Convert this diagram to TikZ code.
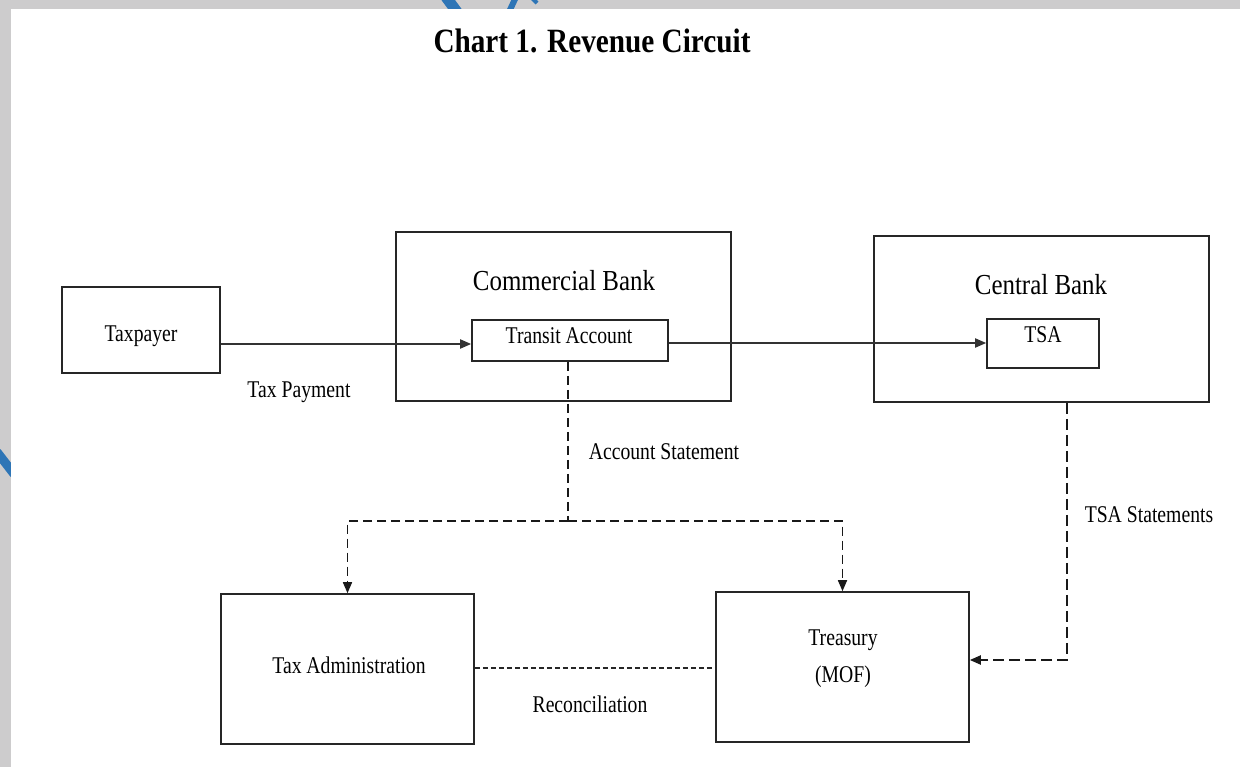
\documentclass[tikz,border=0pt]{standalone}
\usepackage{fontspec}
\setmainfont{Liberation Serif}[FakeStretch=0.82]
\newfontfamily\bigfont{Liberation Serif}[FakeStretch=0.86]
\usetikzlibrary{arrows.meta,calc}
\definecolor{framegray}{HTML}{CDCCCD}
\definecolor{markblue}{HTML}{2E75B6}
\begin{document}
\begin{tikzpicture}[x=1pt,y=-1pt,
  box/.style={draw=black!85,line width=1.6pt,inner sep=0pt},
  lbl/.style={anchor=base,inner sep=0pt,font=\fontsize{24}{28}\selectfont},
  biglbl/.style={anchor=base,inner sep=0pt,font=\bigfont\fontsize{29}{34}\selectfont},
  tip/.style={-{Triangle[length=11pt,width=9pt]}},
  flow/.style={tip,line width=1.8pt,draw=black!80},
  stmt/.style={line width=1.6pt,draw=black!90,dash pattern=on 9pt off 5pt},
  stmtb/.style={line width=2pt,draw=black!90,dash pattern=on 11pt off 5pt},
  recon/.style={line width=1.4pt,draw=black!85,dash pattern=on 5pt off 3pt}]

% page frame
\clip (0,0) rectangle (1240,767);
\fill[framegray] (0,0) rectangle (1240,767);
\draw[markblue,line width=11pt] (446,-3) -- (457,12);
\draw[markblue,line width=6pt] (509,12) -- (516,-3);
\draw[markblue,line width=4pt] (532,-2) -- (537,3);
\draw[markblue,line width=9pt] (-3,452) -- (14,474);
\fill[white] (11,9) rectangle (1240,767);

% title
\node[anchor=base,inner sep=0pt,font=\bigfont\fontsize{34}{40}\selectfont\bfseries] (title) at (592,53) {Chart 1. Revenue Circuit};

% boxes
\node[box,minimum width=158pt,minimum height=86pt] (tp) at (141,330) {};
\node[box,minimum width=335pt,minimum height=169pt] (cb) at (563.5,316.5) {};
\node[box,minimum width=196pt,minimum height=41pt] (ta) at (570,340.5) {};
\node[box,minimum width=335pt,minimum height=166pt] (cen) at (1041.5,319) {};
\node[box,minimum width=112pt,minimum height=49pt] (tsa) at (1043,343.5) {};
\node[box,minimum width=253pt,minimum height=150pt] (tadm) at (347.5,669) {};
\node[box,minimum width=253pt,minimum height=150pt] (tre) at (842.5,667) {};

% box texts
\node[lbl] (tpt) at (141,342) {Taxpayer};
\node[biglbl] (cbt) at (564,291) {Commercial Bank};
\node[lbl] (tat) at (569,344) {Transit Account};
\node[biglbl] (cent) at (1041,295) {Central Bank};
\node[lbl] (tsat) at (1043,343) {TSA};
\node[lbl] (tadmt) at (349,673) {Tax Administration};
\node[lbl] (tret) at (843,645) {Treasury};
\node[lbl] (mof) at (843,682) {(MOF)};

% connector labels
\node[lbl] (payl) at (299,397) {Tax Payment};
\node[lbl] (accl) at (664,459) {Account Statement};
\node[lbl] (tsal) at (1149,522) {TSA Statements};
\node[lbl] (recl) at (590,712) {Reconciliation};

% money flow
\coordinate (payy) at (0,344);
\coordinate (tsay) at (0,343);
\draw[flow] (tp.east |- payy) -- (ta.west |- payy);
\draw[flow] (ta.east |- tsay) -- (tsa.west |- tsay);

% statements
\coordinate (split) at (568,521);
\draw[stmt] (ta.south -| split) -- (split);
\draw[stmt,tip] (split) -| (tadm.north);
\draw[stmt,tip] (split) -| (tre.north);

\coordinate (tsx) at (1067,0);
\coordinate (tsin) at (0,660);
\draw[stmtb,tip] (cen.south -| tsx) |- (tre.east |- tsin);

% reconciliation
\coordinate (recy) at (0,668);
\draw[recon] (tadm.east |- recy) -- (tre.west |- recy);
\end{tikzpicture}
\end{document}
